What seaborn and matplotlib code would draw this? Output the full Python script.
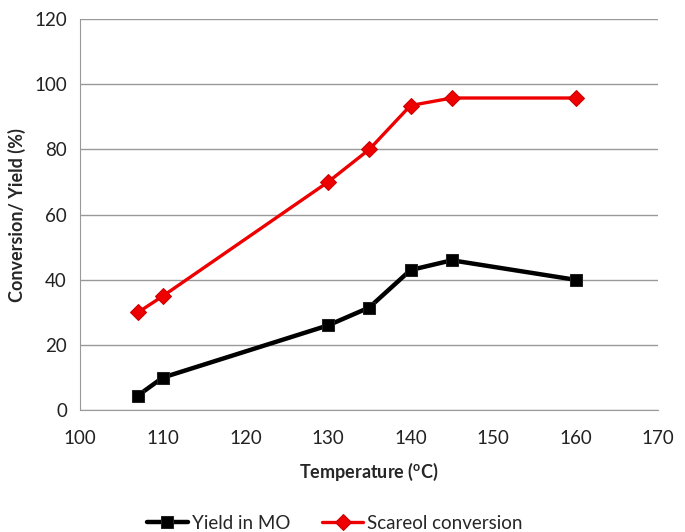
import numpy as np
import pandas as pd
import matplotlib
matplotlib.use("Agg")
import matplotlib.pyplot as plt
import seaborn as sns

# values
temperature = [107, 110, 130, 135, 140, 145, 160]
yield_mo = [4.5, 10, 26, 31.5, 43, 46, 40]
scareol_conv = [30, 35, 70, 80, 93.5, 95.8, 95.8]
x_ticks = [100, 110, 120, 130, 140, 150, 160, 170]
y_ticks = [0, 20, 40, 60, 80, 100, 120]

sns.set_style("white")
plt.rcParams['font.family'] = ['Lato', 'DejaVu Sans']

df = pd.DataFrame({
    'Temperature': temperature * 2,
    'Value': yield_mo + scareol_conv,
    'Series': ['Yield in MO'] * len(temperature) + ['Scareol conversion'] * len(temperature),
})

fig = plt.figure(figsize=(6.85, 5.32), dpi=100)
ax = fig.add_axes([0.117, 0.229, 0.844, 0.735])

sns.lineplot(data=df[df.Series == 'Yield in MO'], x='Temperature', y='Value',
             color='black', lw=3.2, marker='s', markersize=9,
             markeredgecolor='#222222', label='Yield in MO', ax=ax)
sns.lineplot(data=df[df.Series == 'Scareol conversion'], x='Temperature', y='Value',
             color='#ee0000', lw=2.4, marker='D', markersize=8,
             markeredgecolor='#cc0000', label='Scareol conversion', ax=ax)

ax.set_xlim(100, 170)
ax.set_ylim(0, 120)
ax.set_xticks(x_ticks)
ax.set_yticks(y_ticks)
ax.yaxis.grid(True, color='#999999', lw=1)
ax.set_axisbelow(True)
for side in ['top', 'right']:
    ax.spines[side].set_visible(False)
for side in ['left', 'bottom']:
    ax.spines[side].set_color('#999999')
ax.tick_params(axis='both', direction='out', length=6, color='#999999',
               labelsize=13.5, labelcolor='#222222')
ax.tick_params(axis='x', pad=8)

ax.set_xlabel(r'Temperature ($^{\mathregular{o}}$C)', fontsize=13, fontweight='bold', labelpad=10)
ax.set_ylabel('Conversion/ Yield (%)', fontsize=13, fontweight='bold', labelpad=6)

ax.legend(loc='upper center', bbox_to_anchor=(0.44, -0.225), ncol=2, frameon=False,
          fontsize=13.5, handlelength=2.2, columnspacing=1.7, handletextpad=0.2)

fig.savefig('out.png', dpi=100)
